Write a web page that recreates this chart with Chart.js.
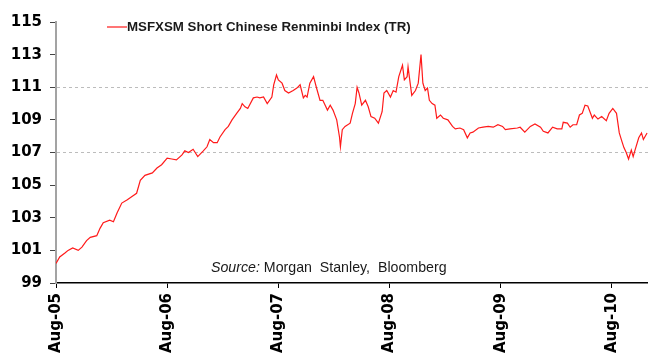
<!DOCTYPE html>
<html>
<head>
<meta charset="utf-8">
<script src="https://cdn.jsdelivr.net/npm/chart.js@4.4.0/dist/chart.umd.min.js"></script>
<style>
  html, body { margin: 0; padding: 0; background: #fff; }
  #wrap { width: 648px; height: 353px; }
</style>
</head>
<body>
<div id="wrap"><canvas id="chart" width="648" height="353"></canvas></div>
<script>
// index readings: months elapsed since Aug-05, and the index level
const months = [
  0.0, 0.4, 1.0, 1.3, 1.8, 2.4, 2.8, 3.3, 3.7, 4.4, 4.75, 5.1, 5.8, 6.2, 6.6, 7.1, 7.7, 8.2, 8.7, 9.1,
  9.6, 10.4, 10.9, 11.4, 12.0, 12.5, 13.0, 13.6, 13.9, 14.3, 14.8, 15.3, 15.9, 16.3, 16.6, 17.0, 17.4, 17.7, 18.25, 18.6,
  19.0, 19.5, 19.9, 20.1, 20.4, 20.7, 21.3, 21.7, 22.0, 22.4, 22.8, 23.3, 23.5, 23.8, 24.0, 24.4, 24.7, 25.1, 25.6, 26.0,
  26.35, 26.7, 26.9, 27.1, 27.4, 27.8, 28.1, 28.5, 28.8, 29.3, 29.6, 29.9, 30.3, 30.6, 30.7, 30.9, 31.2, 31.75, 32.0, 32.3,
  32.5, 32.7, 33.0, 33.4, 33.7, 34.0, 34.4, 34.8, 35.2, 35.4, 35.7, 36.1, 36.4, 36.7, 37.0, 37.4, 37.6, 37.9, 38.0, 38.4,
  38.8, 39.1, 39.4, 39.6, 39.85, 40.1, 40.3, 40.6, 40.9, 41.1, 41.5, 41.8, 42.3, 42.8, 43.1, 43.6, 44.0, 44.4, 44.7, 45.0,
  45.6, 46.1, 46.65, 47.2, 47.7, 48.2, 48.5, 49.0, 49.8, 50.1, 50.6, 51.2, 51.7, 52.3, 52.6, 53.1, 53.6, 54.1, 54.6, 54.75,
  55.2, 55.5, 55.8, 56.2, 56.5, 56.8, 57.1, 57.4, 57.9, 58.1, 58.5, 58.9, 59.4, 59.7, 60.1, 60.5, 60.8, 61.1, 61.3, 61.55,
  61.8, 62.1, 62.3, 62.5, 62.9, 63.2, 63.4, 63.8
]
const indexLevel = [
  100.2, 100.6, 100.85, 101.0, 101.15, 101.0, 101.2, 101.6, 101.8, 101.9, 102.35, 102.7, 102.85, 102.75, 103.3, 103.9, 104.1, 104.3, 104.5, 105.3,
  105.6, 105.75, 106.05, 106.25, 106.65, 106.6, 106.55, 106.85, 107.1, 107.0, 107.2, 106.75, 107.1, 107.35, 107.8, 107.6, 107.6, 107.95, 108.4, 108.6,
  109.0, 109.4, 109.7, 110.0, 109.8, 109.7, 110.35, 110.4, 110.35, 110.4, 110.0, 110.4, 111.15, 111.75, 111.45, 111.25, 110.8, 110.65, 110.8, 110.95,
  111.15, 110.35, 110.5, 110.4, 111.25, 111.65, 111.0, 110.2, 110.2, 109.6, 109.9, 109.6, 109.0, 107.95, 107.35, 108.4, 108.6, 108.8, 109.4, 110.0,
  111.0, 110.65, 109.9, 110.2, 109.8, 109.2, 109.1, 108.8, 109.5, 110.65, 110.8, 110.4, 110.8, 110.7, 111.65, 112.35, 111.45, 111.65, 112.25, 110.5,
  110.8, 111.25, 113.0, 111.25, 110.8, 110.95, 110.2, 110.0, 109.9, 109.1, 109.3, 109.1, 109.0, 108.6, 108.45, 108.5, 108.4, 107.9, 108.2, 108.25,
  108.5, 108.55, 108.6, 108.55, 108.7, 108.6, 108.4, 108.45, 108.5, 108.55, 108.25, 108.6, 108.75, 108.55, 108.3, 108.2, 108.55, 108.45, 108.45, 108.85,
  108.8, 108.55, 108.7, 108.7, 109.3, 109.4, 109.9, 109.85, 109.1, 109.3, 109.05, 109.2, 108.95, 109.4, 109.7, 109.4, 108.2, 107.65, 107.3, 107.0,
  106.6, 107.15, 106.75, 107.15, 107.9, 108.2, 107.8, 108.2
]

const tickMonths = [0, 12, 24, 36, 48, 60]
const tickLabels = ['Aug-05', 'Aug-06', 'Aug-07', 'Aug-08', 'Aug-09', 'Aug-10']
const levelTicks = [99, 101, 103, 105, 107, 109, 111, 113, 115]
const gridLevels = [107, 111]

const seriesName = 'MSFXSM Short Chinese Renminbi Index (TR)'
const sourceLabel = 'Source:'
const sourceText = ' Morgan  Stanley,  Bloomberg'

const points = months.map((m, i) => ({ x: m, y: indexLevel[i] }))

// legend key and source note
const notes = {
  id: 'notes',
  afterDraw(chart) {
    const { ctx } = chart
    const ds = chart.data.datasets[0]
    ctx.save()
    ctx.strokeStyle = ds.borderColor
    ctx.lineWidth = 1.2
    ctx.beginPath()
    ctx.moveTo(107, 27)
    ctx.lineTo(127, 27)
    ctx.stroke()

    ctx.fillStyle = '#1a1a1a'
    ctx.textBaseline = 'middle'
    ctx.font = 'bold 13.3px "Liberation Sans", Arial, sans-serif'
    ctx.fillText(ds.label, 127, 27)

    ctx.font = 'italic 14.2px "Liberation Sans", Arial, sans-serif'
    ctx.fillText(sourceLabel, 211, 268)
    const w = ctx.measureText(sourceLabel).width
    ctx.font = '14.2px "Liberation Sans", Arial, sans-serif'
    ctx.fillText(sourceText, 211 + w, 268)
    ctx.restore()
  }
}

new Chart(document.getElementById('chart'), {
  type: 'line',
  data: {
    datasets: [{
      label: seriesName,
      data: points,
      borderColor: '#ff1a1a',
      borderWidth: 1.2,
      pointRadius: 0,
      fill: false,
      tension: 0
    }]
  },
  options: {
    responsive: false,
    animation: false,
    layout: { padding: { top: 22, right: 0, left: 0, bottom: 0 } },
    plugins: { legend: { display: false }, tooltip: { enabled: false } },
    scales: {
      x: {
        type: 'linear',
        min: 0,
        max: 63.9,
        afterBuildTicks: s => { s.ticks = tickMonths.map(v => ({ value: v })) },
        afterFit: s => { s.height = 70 },
        border: { color: '#000', width: 1.5 },
        grid: { drawOnChartArea: false, tickLength: 5, tickColor: '#000', tickWidth: 1 },
        ticks: {
          minRotation: 90,
          maxRotation: 90,
          autoSkip: false,
          padding: 5,
          color: '#000',
          font: { family: 'DejaVu Sans', weight: 'bold', size: 15 },
          callback: (v, i) => tickLabels[i]
        }
      },
      y: {
        min: 99,
        max: 115,
        afterBuildTicks: s => { s.ticks = levelTicks.map(v => ({ value: v })) },
        afterFit: s => { s.width = 56 },
        border: { color: '#a3a3a3', width: 2, dash: [3, 3] },
        grid: {
          color: c => (c.tick && gridLevels.includes(c.tick.value)) ? '#bcbcbc' : 'rgba(0,0,0,0)',
          lineWidth: 1,
          tickLength: 6,
          tickColor: '#444',
          tickWidth: 1,
          tickBorderDash: []
        },
        ticks: {
          padding: 8,
          color: '#000',
          font: { family: 'DejaVu Sans', weight: 'bold', size: 15 }
        }
      }
    }
  },
  plugins: [notes]
})
</script>
</body>
</html>
